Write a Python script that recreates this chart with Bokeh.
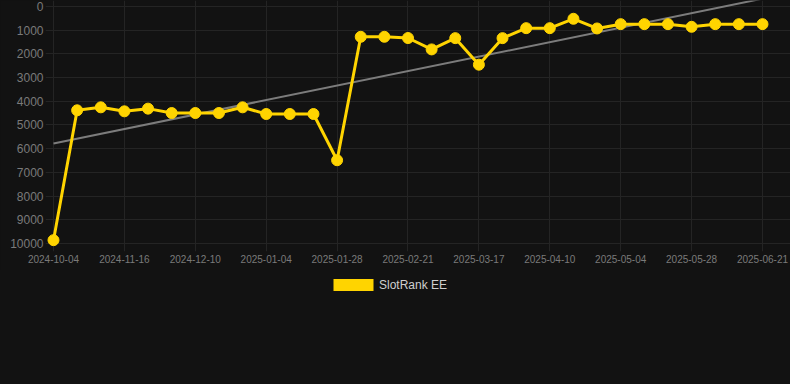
import numpy as np
from bokeh.plotting import figure
from bokeh.layouts import column
from bokeh.models import Range1d, FixedTicker, Legend, LegendItem
from bokeh.embed import file_html
from bokeh.resources import INLINE

# ---- data ----
dates = [
    "2024-10-04", "2024-10-31", "2024-11-08", "2024-11-16", "2024-11-24", "2024-12-02",
    "2024-12-10", "2024-12-18", "2024-12-27", "2025-01-04", "2025-01-12", "2025-01-20",
    "2025-01-28", "2025-02-05", "2025-02-13", "2025-02-21", "2025-03-01", "2025-03-09",
    "2025-03-17", "2025-03-25", "2025-04-02", "2025-04-10", "2025-04-18", "2025-04-26",
    "2025-05-04", "2025-05-12", "2025-05-20", "2025-05-28", "2025-06-05", "2025-06-13",
    "2025-06-21",
]
ranks = [
    9860, 4380, 4254, 4423, 4310, 4494, 4494, 4494, 4254, 4536, 4536, 4536,
    6487, 1278, 1278, 1330, 1811, 1335, 2456, 1335, 914, 914, 518, 927,
    745, 745, 745, 857, 745, 745, 745,
]
series_name = "SlotRank EE"
y_ticks = list(range(0, 10001, 1000))
label_step = 3

YELLOW = "#FFD400"
BG = "#121212"
GRID = "#242424"
TICK_TXT = "#7a7a7a"
FONT = "Liberation Sans"

idx = list(range(len(ranks)))
n_slots = len(ranks)

TOP_H = 270
FRAME_LEFT = 45
p = figure(
    width=790, height=TOP_H, output_backend="svg", toolbar_location=None,
    x_range=Range1d(-0.3385, 31.185), y_range=Range1d(10338, -253),
    min_border_left=FRAME_LEFT, min_border_right=0, min_border_top=0,
    min_border_bottom=TOP_H - 251,
    background_fill_color=BG, border_fill_color=BG, outline_line_color=None,
)

# trend line (least squares fit of the series)
coef = np.polyfit(idx, ranks, 1)
tx = [0, n_slots]
ty = list(np.polyval(coef, tx))
p.line(tx, ty, line_color="#7c7c7c", line_width=2)

# main series
p.line(idx, ranks, line_color=YELLOW, line_width=3)
p.scatter(idx, ranks, size=11, fill_color=YELLOW, line_color=YELLOW)

# axes
tick_pos = list(range(0, len(dates), label_step))
p.xaxis.ticker = FixedTicker(ticks=tick_pos)
p.xaxis.major_label_overrides = {i: dates[i] for i in tick_pos}
p.yaxis.ticker = FixedTicker(ticks=y_ticks)

for ax in (p.xaxis[0], p.yaxis[0]):
    ax.axis_line_color = None
    ax.major_tick_line_color = None
    ax.major_tick_out = 0
    ax.major_tick_in = 0
    ax.minor_tick_line_color = None
    ax.major_label_text_font = FONT
    ax.major_label_text_color = TICK_TXT
p.xaxis.major_label_standoff = 3
p.yaxis.major_label_standoff = 2
p.xaxis.major_label_text_font_size = "10px"
p.yaxis.major_label_text_font_size = "12px"

p.xgrid.grid_line_color = GRID
p.ygrid.grid_line_color = GRID

# ---- legend strip below the chart ----
LEG_H = 384 - TOP_H
pl = figure(
    width=790, height=LEG_H, output_backend="svg", toolbar_location=None,
    x_range=Range1d(0, 1), y_range=Range1d(0, 1),
    x_axis_location=None, y_axis_location=None,
    min_border=0, background_fill_color=None, border_fill_color=None,
    outline_line_color=None,
)
pl.grid.visible = False
# zero-size quad: only serves as the legend swatch
swatch = pl.quad(left=[0], right=[0], top=[0], bottom=[0], fill_color=YELLOW, line_color=None)
legend = Legend(
    items=[LegendItem(label=series_name, renderers=[swatch])],
    location=(328 - FRAME_LEFT, LEG_H - 22), orientation="horizontal",
    glyph_width=50, glyph_height=15, label_height=15, label_standoff=1,
    padding=0, margin=0, spacing=0,
    border_line_color=None, background_fill_alpha=0,
    label_text_font=FONT, label_text_font_size="12px", label_text_color="#cfcfcf",
)
pl.add_layout(legend, "center")

layout = column(p, pl, spacing=0, styles={"background-color": BG})
open("out.html", "w").write(file_html(layout, INLINE))
